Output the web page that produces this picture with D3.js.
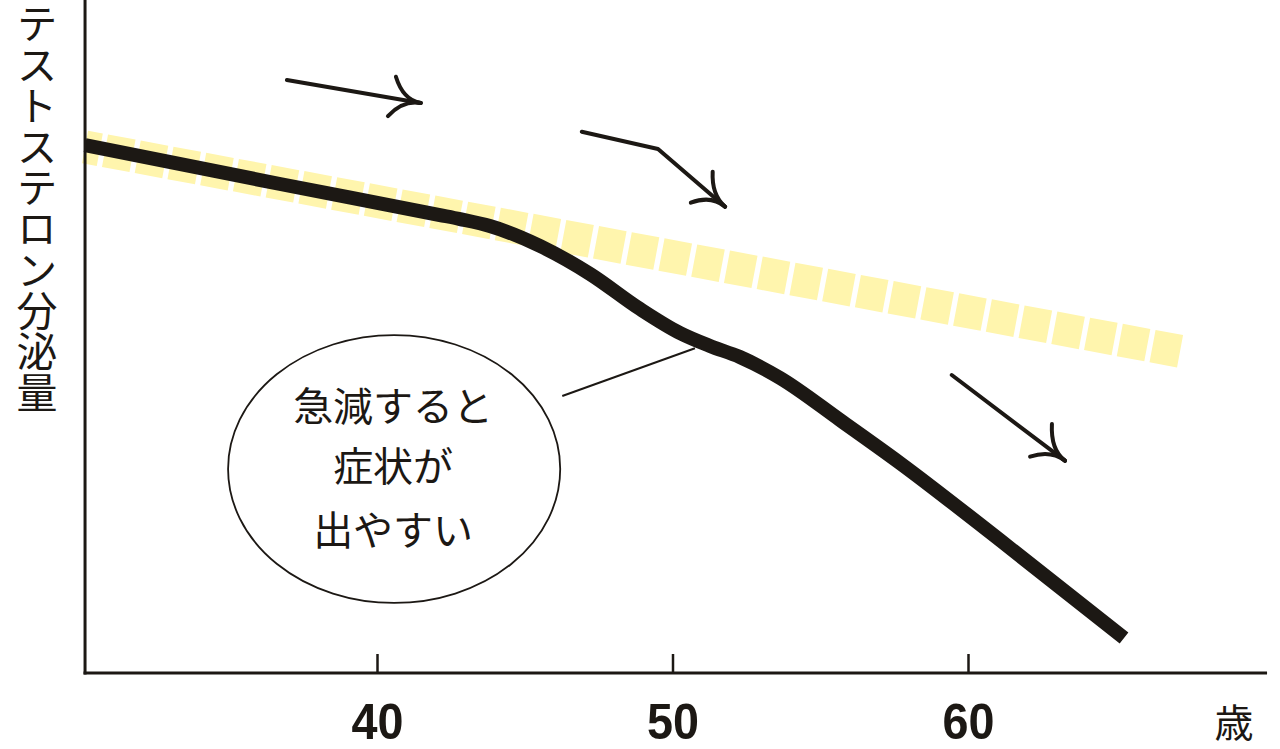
<!DOCTYPE html>
<html>
<head>
<meta charset="utf-8">
<script src="https://cdn.jsdelivr.net/npm/d3@7"></script>
<style>
  html, body { margin: 0; padding: 0; background: #fff; }
  svg { display: block; }
</style>
</head>
<body>
<svg id="chart" width="1280" height="749"></svg>
<script>
// ---- data ----
const xTicks = [40, 50, 60];
const xTickLabels = ["40", "50", "60"];
const xUnit = "歳";
const yLabel = "テストステロン分泌量";

// actual (falling) testosterone curve: [age, level]
const actualAges   = [30.12, 36.72, 42.13, 42.81, 43.82, 45.52, 47.21, 48.90, 50.25, 51.27, 52.28, 53.64, 55.67, 57.70, 61.08, 65.28];
const actualLevels = [78.45, 72.66, 68.05, 67.45, 66.42, 63.45, 59.29, 54.09, 50.52, 48.59, 46.95, 43.83, 37.59, 31.20, 19.76, 5.20];

// gradual (reference) decline, yellow dashed band
const gradualAges   = [30.12, 67.31];
const gradualLevels = [78.16, 47.70];

// trend arrows: shaft points then two barb start points
const arrowShafts = [
  [[36.95, 88.11], [41.48, 84.70]],
  [[46.93, 80.43], [49.51, 77.86], [51.78, 69.29]],
  [[59.45, 44.28], [63.28, 31.55]]
];
const arrowBarbs = [
  [[40.64, 88.60], [40.37, 82.76]],
  [[51.36, 74.49], [50.62, 69.88]],
  [[62.84, 37.00], [62.10, 32.14]]
];

// callout
const calloutLines = ["急減すると", "症状が", "出やすい"];
const calloutCenter = [40.58, 30.31];
const calloutRadius = [5.62, 19.9];          // in years, level units
const calloutLeader = [[46.27, 41.16], [50.76, 48.25]];
const calloutLineLevels = [40.0, 31.0, 21.5];

// ---- scales ----
const svg = d3.select("#chart");
const x = d3.scaleLinear().domain([30, 70]).range([81.5, 1263.5]);
const y = d3.scaleLinear().domain([0, 100]).range([673, 0]);
const xStart = 30.12, xEnd = 70.12;

const ink = "#1c1814";
const jp = "'Noto Sans CJK JP', 'Noto Sans CJK SC', sans-serif";

// yellow dashed band
svg.append("path")
  .datum(d3.zip(gradualAges, gradualLevels))
  .attr("d", d3.line().x(d => x(d[0])).y(d => y(d[1])))
  .attr("fill", "none")
  .attr("stroke", "#fff5ad")
  .attr("stroke-width", 33)
  .attr("stroke-dasharray", "28 5.3")
  .attr("stroke-dashoffset", 13);

// black curve
svg.append("path")
  .datum(d3.zip(actualAges, actualLevels))
  .attr("d", d3.line().x(d => x(d[0])).y(d => y(d[1])).curve(d3.curveMonotoneX))
  .attr("fill", "none")
  .attr("stroke", ink)
  .attr("stroke-width", 14)
  .attr("stroke-linecap", "butt")
  .attr("stroke-linejoin", "round");

// axes
const xAxis = d3.axisBottom(x).tickValues(xTicks).tickFormat((d, i) => xTickLabels[i])
  .tickSizeInner(-19).tickSizeOuter(0);
const gx = svg.append("g").attr("transform", `translate(0,${y(0)})`).call(xAxis);
gx.select(".domain").remove();
gx.selectAll(".tick line").attr("stroke", ink).attr("stroke-width", 2.5);
gx.selectAll(".tick text")
  .attr("y", 66).attr("dy", 0)
  .attr("fill", ink)
  .attr("font-family", "'Liberation Sans', Arial, sans-serif")
  .attr("font-weight", "bold")
  .attr("font-size", 50)
  .attr("textLength", 52)
  .attr("lengthAdjust", "spacingAndGlyphs");

svg.append("line")
  .attr("x1", x(xStart) - 1.5).attr("x2", x(xEnd))
  .attr("y1", y(0)).attr("y2", y(0))
  .attr("stroke", ink).attr("stroke-width", 3);
svg.append("line")
  .attr("x1", x(xStart)).attr("x2", x(xStart))
  .attr("y1", y(100)).attr("y2", y(0) + 1.5)
  .attr("stroke", ink).attr("stroke-width", 3);

svg.append("text")
  .attr("x", x(69.0)).attr("y", 720)
  .attr("text-anchor", "middle").attr("dominant-baseline", "central")
  .attr("font-family", jp).attr("font-size", 39).attr("fill", ink)
  .text(xUnit);

svg.append("text")
  .attr("x", 37).attr("y", 3)
  .style("writing-mode", "vertical-rl")
  .attr("font-family", jp).attr("font-size", 41).attr("fill", ink)
  .text(yLabel);

// arrows
arrowShafts.forEach((shaft, i) => {
  const pts = shaft.map(p => [x(p[0]), y(p[1])]);
  svg.append("path")
    .attr("d", d3.line()(pts))
    .attr("fill", "none").attr("stroke", ink).attr("stroke-width", 4)
    .attr("stroke-linecap", "round").attr("stroke-linejoin", "round");
  const tip = pts[pts.length - 1], prev = pts[pts.length - 2];
  const dx = tip[0] - prev[0], dy = tip[1] - prev[1];
  const L = Math.hypot(dx, dy);
  const ctrl = [tip[0] - dx / L * 18, tip[1] - dy / L * 18];
  arrowBarbs[i].forEach(b => {
    const bp = [x(b[0]), y(b[1])];
    const p = d3.path();
    p.moveTo(bp[0], bp[1]);
    p.quadraticCurveTo(ctrl[0], ctrl[1], tip[0], tip[1]);
    svg.append("path").attr("d", p.toString())
      .attr("fill", "none").attr("stroke", ink).attr("stroke-width", 4)
      .attr("stroke-linecap", "round");
  });
});

// callout
svg.append("line")
  .attr("x1", x(calloutLeader[0][0])).attr("y1", y(calloutLeader[0][1]))
  .attr("x2", x(calloutLeader[1][0])).attr("y2", y(calloutLeader[1][1]))
  .attr("stroke", ink).attr("stroke-width", 2);
svg.append("ellipse")
  .attr("cx", x(calloutCenter[0])).attr("cy", y(calloutCenter[1]))
  .attr("rx", x(calloutCenter[0] + calloutRadius[0]) - x(calloutCenter[0]))
  .attr("ry", y(calloutCenter[1] - calloutRadius[1]) - y(calloutCenter[1]))
  .attr("fill", "#fff").attr("stroke", ink).attr("stroke-width", 1.8);
svg.selectAll(".callout").data(calloutLines).join("text")
  .attr("class", "callout")
  .attr("x", x(calloutCenter[0]) - 1)
  .attr("y", (d, i) => y(calloutLineLevels[i]))
  .attr("text-anchor", "middle").attr("dominant-baseline", "central")
  .attr("font-family", jp).attr("font-size", 40).attr("fill", ink)
  .text(d => d);
</script>
</body>
</html>
